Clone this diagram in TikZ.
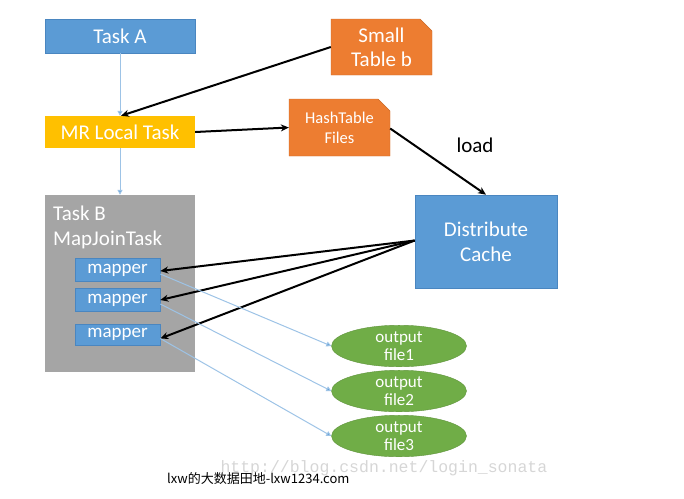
\documentclass[tikz,border=0pt]{standalone}
\usepackage{fontspec}
\setmainfont{Carlito}
\newfontfamily\cjkfont{Noto Sans CJK SC}
\newfontfamily\wmfont{Liberation Mono}
\usetikzlibrary{shapes.misc,shapes.geometric,arrows.meta}
\definecolor{cblue}{HTML}{5B9BD5}
\definecolor{cblueline}{HTML}{4A86C0}
\definecolor{corange}{HTML}{ED7D31}
\definecolor{cyellow}{HTML}{FFC000}
\definecolor{cgray}{HTML}{A5A5A5}
\definecolor{cgreen}{HTML}{70AD47}
\definecolor{clight}{HTML}{9DC3E6}
\definecolor{cwm}{HTML}{D6D6D6}
\tikzset{
  box/.style={rectangle, inner sep=0pt, text=white, align=center},
  bluebox/.style={box, fill=cblue, draw=cblueline, line width=0.6pt},
  snip/.style={chamfered rectangle, chamfered rectangle corners=north east,
    chamfered rectangle xsep=6pt, chamfered rectangle ysep=6pt,
    fill=corange, draw=corange!85!black, line width=0.4pt, inner sep=0pt, text=white, align=center},
  outf/.style={ellipse, fill=cgreen, draw=cgreen!85!black, line width=0.4pt, inner sep=0pt,
    minimum width=135pt, minimum height=33pt, text=white, align=center,
    font=\fontsize{17}{18.5}\selectfont},
  bigf/.style={font=\fontsize{21}{24}\selectfont},
  blk/.style={draw=black, line width=2pt, -{Stealth[length=8pt,width=7pt]}},
  thin/.style={draw=clight, line width=1pt, -{Triangle[length=5pt,width=5pt,fill=cblue]}},
}
\begin{document}
\begin{tikzpicture}[x=1pt,y=-1pt]
\useasboundingbox (0,0) rectangle (684,498);
% watermark
\node[text=cwm, font=\wmfont\fontsize{16.5}{18}\selectfont, anchor=west] (wm) at (217,468) {http://blog.csdn.net/login\_sonata};
% nodes
\node[bluebox, bigf, minimum width=150pt, minimum height=34pt] (ta) at (120,36) {Task A};
\node[box, fill=cyellow, bigf, minimum width=150pt, minimum height=32pt] (mr) at (120,132) {MR Local Task};
\node[snip, bigf, minimum width=101pt, minimum height=56pt] (st) at (381.5,47) {Small\\Table b};
\node[snip, font=\fontsize{16.5}{20}\selectfont, minimum width=101pt, minimum height=57pt] (ht) at (339.5,127.5) {HashTable\\Files};
\node[box, fill=cgray, minimum width=150pt, minimum height=177pt] (tb) at (120,283.5) {};
\node[anchor=north west, inner sep=0pt, text=white, align=left, font=\fontsize{21}{25}\selectfont] (tbl) at (53,206) {Task B\\MapJoinTask};
\node[bluebox, font=\fontsize{19}{20}\selectfont, minimum width=85pt, minimum height=23pt] (m1) at (117.5,270) {mapper};
\node[bluebox, font=\fontsize{19}{20}\selectfont, minimum width=85pt, minimum height=23pt] (m2) at (117.5,300) {mapper};
\node[bluebox, font=\fontsize{19}{20}\selectfont, minimum width=85pt, minimum height=21pt] (m3) at (117.5,334.5) {mapper};
\node[bluebox, font=\fontsize{21}{25}\selectfont, minimum width=142pt, minimum height=93pt] (dc) at (486,241.5) {Distribute\\Cache};
\node[outf] (o1) at (399,346) {output\\file1};
\node[outf] (o2) at (399,391) {output\\file2};
\node[outf] (o3) at (399,436) {output\\file3};
\node[font=\fontsize{21}{24}\selectfont, inner sep=0pt] (ld) at (475,145) {load};
\node[anchor=west, inner sep=0pt, font=\cjkfont\fontsize{13}{15}\selectfont] (ft) at (167,479) {lxw的大数据田地-lxw1234.com};
% connectors
\draw[thin] (ta.south) -- (mr.north);
\draw[thin] (mr.south) -- (tb.north);
\draw[blk] (st.west) -- ([xshift=1pt]mr.north);
\draw[blk] (mr.east) -- (ht.west);
\draw[blk] ([yshift=-1pt]ht.east) -- (dc.north);
\coordinate (dcw) at ([yshift=1pt]dc.west);
\draw[blk] (dcw) -- ([yshift=-1pt]m1.east);
\draw[blk] (dcw) -- (m2.east);
\draw[blk] (dcw) -- ([yshift=-4pt]m3.east);
\draw[thin] ([yshift=-4pt]m1.east) -- (o1.west);
\draw[thin] ([yshift=-4pt]m2.east) -- (o2.west);
\draw[thin] ([yshift=-4pt]m3.east) -- (o3.west);
\end{tikzpicture}
\end{document}
